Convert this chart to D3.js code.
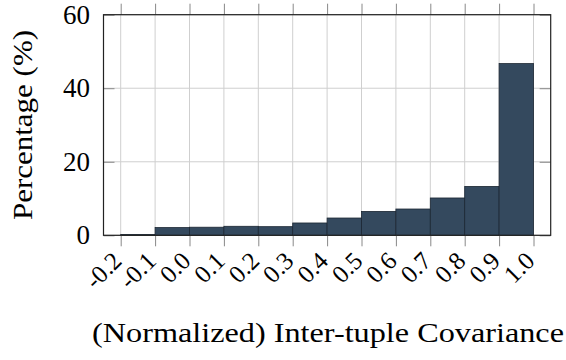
<!DOCTYPE html>
<html>
<head>
<meta charset="utf-8">
<script src="https://cdn.jsdelivr.net/npm/d3@7"></script>
<style>
  html, body { margin: 0; padding: 0; background: #fff; }
  svg { display: block; }
  text { font-family: "Liberation Serif", "DejaVu Serif", serif; fill: #000; }
</style>
</head>
<body>
<svg id="chart" width="566" height="360"></svg>
<script>
// Histogram bins: left edges (width 0.1) and percentage of tuples per bin
const binStarts = [-0.2, -0.1, 0.0, 0.1, 0.2, 0.3, 0.4, 0.5, 0.6, 0.7, 0.8, 0.9];
const percentages = [0.2, 2.1, 2.2, 2.45, 2.35, 3.35, 4.7, 6.5, 7.15, 10.15, 13.3, 46.7];
const binWidth = 0.1;

const xTicks = [-0.2, -0.1, 0.0, 0.1, 0.2, 0.3, 0.4, 0.5, 0.6, 0.7, 0.8, 0.9, 1.0];
const xTickLabels = ["-0.2", "-0.1", "0.0", "0.1", "0.2", "0.3", "0.4", "0.5", "0.6", "0.7", "0.8", "0.9", "1.0"];
const yTicks = [0, 20, 40, 60];

const xTitle = "(Normalized) Inter-tuple Covariance";
const yTitle = "Percentage (%)";

const W = 566, H = 360;
const margin = { top: 14.7, right: 15.3, bottom: 124.7, left: 103.5 };
const iw = W - margin.left - margin.right;
const ih = H - margin.top - margin.bottom;

const svg = d3.select("#chart");
const g = svg.append("g").attr("transform", `translate(${margin.left},${margin.top})`);

const x = d3.scaleLinear().domain([-0.25, 1.05]).range([0, iw]);
const y = d3.scaleLinear().domain([0, 60]).range([ih, 0]);

// grid
g.append("g").selectAll("line").data(xTicks).join("line")
  .attr("x1", d => x(d)).attr("x2", d => x(d))
  .attr("y1", 0).attr("y2", ih)
  .attr("stroke", "#cfcfcf").attr("stroke-width", 1);
g.append("g").selectAll("line").data(yTicks).join("line")
  .attr("x1", 0).attr("x2", iw)
  .attr("y1", d => y(d)).attr("y2", d => y(d))
  .attr("stroke", "#cfcfcf").attr("stroke-width", 1);

// bars
const bins = binStarts.map((s, i) => ({ x0: s, x1: s + binWidth, v: percentages[i] }));
g.append("g").selectAll("rect").data(bins).join("rect")
  .attr("x", d => x(d.x0))
  .attr("width", d => x(d.x1) - x(d.x0))
  .attr("y", d => y(d.v))
  .attr("height", d => y(0) - y(d.v))
  .attr("fill", "#34495e")
  .attr("stroke", "#1c2733")
  .attr("stroke-width", 0.8);

// x axes: ticks outside, top and bottom
const tickLen = 11;
const xb = d3.axisBottom(x).tickValues(xTicks).tickSize(tickLen).tickFormat((d, i) => xTickLabels[i]);
const xAxisB = g.append("g").attr("transform", `translate(0,${ih})`).call(xb);
xAxisB.select(".domain").remove();
xAxisB.selectAll(".tick line").attr("stroke", "#888");
xAxisB.selectAll(".tick text")
  .attr("font-size", 25)
  .attr("text-anchor", "end")
  .attr("dy", null).attr("y", null)
  .attr("transform", "translate(2,27) rotate(-45)");

const xt = d3.axisTop(x).tickValues(xTicks).tickSize(tickLen).tickFormat("");
const xAxisT = g.append("g").call(xt);
xAxisT.select(".domain").remove();
xAxisT.selectAll(".tick line").attr("stroke", "#888");

// y axes: ticks inside, left and right
const yl = d3.axisLeft(y).tickValues(yTicks).tickSize(-tickLen).tickPadding(13.5);
const yAxisL = g.append("g").call(yl);
yAxisL.select(".domain").remove();
yAxisL.selectAll(".tick line").attr("stroke", "#888");
yAxisL.selectAll(".tick text").attr("font-size", 27);

const yr = d3.axisRight(y).tickValues(yTicks).tickSize(-tickLen).tickFormat("");
const yAxisR = g.append("g").attr("transform", `translate(${iw},0)`).call(yr);
yAxisR.select(".domain").remove();
yAxisR.selectAll(".tick line").attr("stroke", "#888");

// frame
g.append("rect").attr("x", 0).attr("y", 0).attr("width", iw).attr("height", ih)
  .attr("fill", "none").attr("stroke", "#222").attr("stroke-width", 1.2);

// titles
svg.append("text")
  .attr("x", 328).attr("y", 342)
  .attr("text-anchor", "middle").attr("font-size", 28)
  .attr("textLength", 472).attr("lengthAdjust", "spacingAndGlyphs")
  .text(xTitle);
svg.append("text")
  .attr("transform", `translate(32,${margin.top + ih / 2}) rotate(-90)`)
  .attr("text-anchor", "middle").attr("font-size", 28)
  .attr("textLength", 190).attr("lengthAdjust", "spacingAndGlyphs")
  .text(yTitle);
</script>
</body>
</html>
